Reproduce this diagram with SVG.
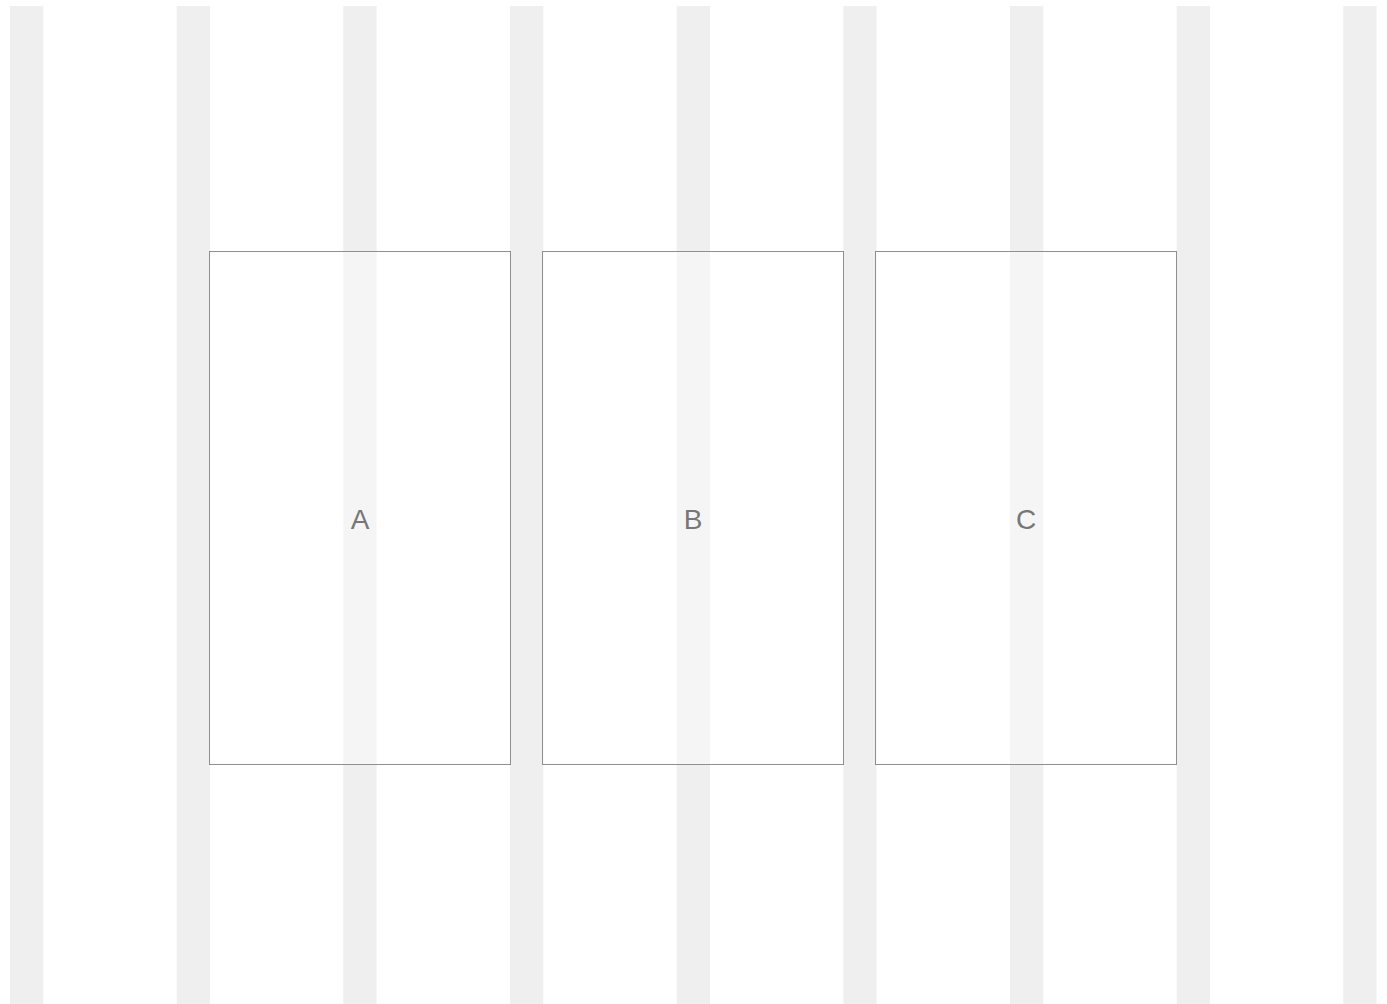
<svg xmlns="http://www.w3.org/2000/svg" width="1387" height="1004" viewBox="0 0 1387 1004">
<style>
.stripe{fill:#efefef}
.box{fill:#ffffff;fill-opacity:0.4;stroke:#8f8f8f;stroke-width:1}
.lbl{font-family:"Liberation Sans",Arial,sans-serif;font-size:28px;fill:#777777;text-anchor:middle;dominant-baseline:central}
</style>
<rect width="1387" height="1004" fill="#ffffff"/>
<g id="grid">
<rect class="stripe" x="10" y="6" width="33.3" height="998"/>
<rect class="stripe" x="176.7" y="6" width="33.3" height="998"/>
<rect class="stripe" x="343.3" y="6" width="33.3" height="998"/>
<rect class="stripe" x="510" y="6" width="33.3" height="998"/>
<rect class="stripe" x="676.7" y="6" width="33.3" height="998"/>
<rect class="stripe" x="843.3" y="6" width="33.3" height="998"/>
<rect class="stripe" x="1010" y="6" width="33.3" height="998"/>
<rect class="stripe" x="1176.7" y="6" width="33.3" height="998"/>
<rect class="stripe" x="1343.3" y="6" width="33.3" height="998"/>
</g>
<g id="connectors"></g>
<g id="nodeA">
<rect class="box" x="209.5" y="251.5" width="301" height="513"/>
<text class="lbl" x="360" y="519">A</text>
</g>
<g id="nodeB">
<rect class="box" x="542.5" y="251.5" width="301" height="513"/>
<text class="lbl" x="693" y="519">B</text>
</g>
<g id="nodeC">
<rect class="box" x="875.5" y="251.5" width="301" height="513"/>
<text class="lbl" x="1026" y="519">C</text>
</g>
</svg>
